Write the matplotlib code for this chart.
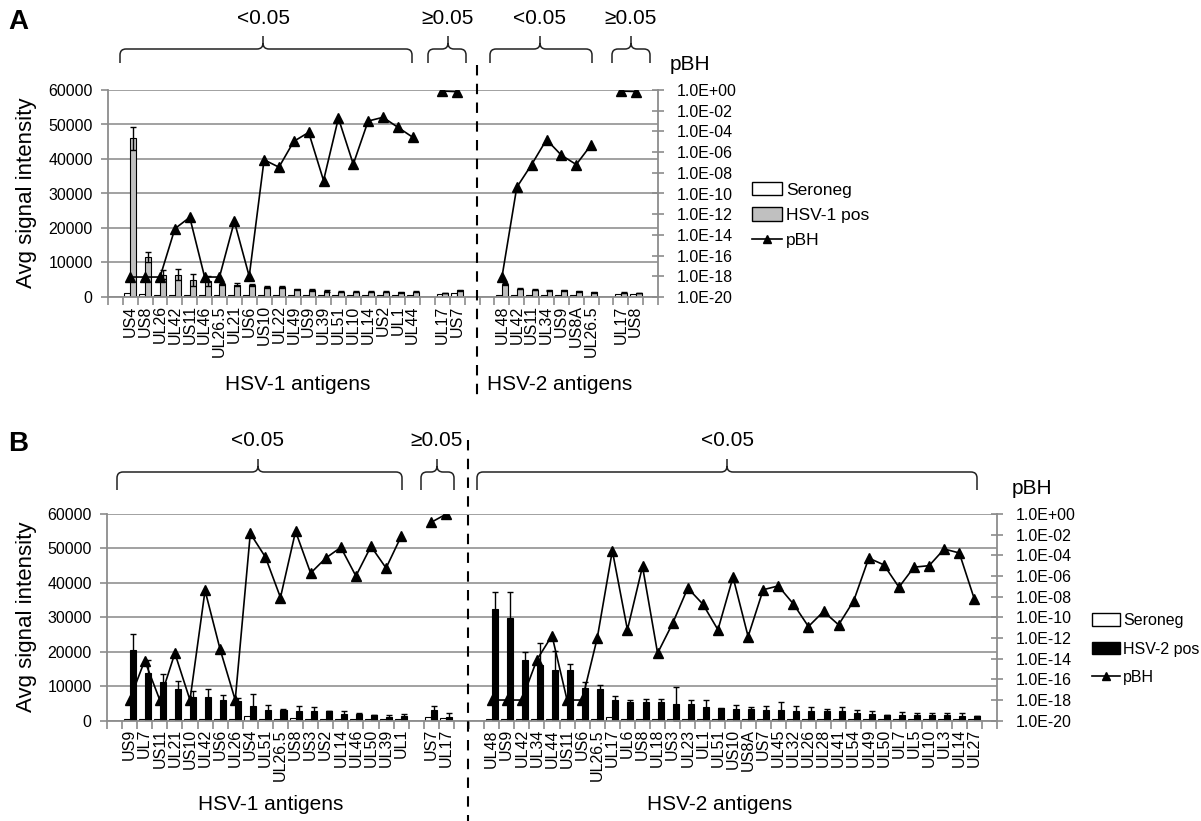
import numpy as np
import matplotlib
matplotlib.use('Agg')
import matplotlib.pyplot as plt
from matplotlib.patches import Patch, PathPatch
from matplotlib.lines import Line2D
from matplotlib.path import Path
from matplotlib.ticker import NullLocator

plt.rcParams['font.family'] = ['Liberation Sans', 'DejaVu Sans']

# ---------------- Panel A data ----------------
A1_labels = ['US4', 'US8', 'UL26', 'UL42', 'US11', 'UL46', 'UL26.5', 'UL21', 'US6', 'US10',
             'UL22', 'UL49', 'US9', 'UL39', 'UL51', 'UL10', 'UL14', 'US2', 'UL1', 'UL44']
A1_neg = [1300, 900, 700, 700, 700, 700, 500, 600, 600, 700, 600, 600, 500, 500, 500, 500, 600, 600, 600, 600]
A1_pos = [46000, 11600, 6500, 6500, 4900, 4600, 3800, 3600, 3400, 2900,
          2800, 2200, 2000, 1700, 1500, 1500, 1500, 1500, 1400, 1500]
A1_err = [3300, 1400, 1200, 1600, 1800, 1500, 400, 400, 300, 400, 300, 200, 300, 200, 150, 150, 150, 150, 150, 150]
A1_pbh = [8.5e-19, 8.5e-19, 8.5e-19, 4.0e-14, 5.0e-13, 8.5e-19, 8.5e-19, 2.0e-13, 1.0e-18, 1.8e-07,
          3.5e-08, 1.1e-05, 8.0e-05, 1.8e-09, 1.9e-03, 6.8e-08, 1.0e-03, 2.3e-03, 2.5e-04, 2.7e-05]

A2_labels = ['UL17', 'US7']
A2_neg = [1000, 1200]
A2_pos = [1200, 1900]
A2_err = [100, 200]
A2_pbh = [0.79, 0.69]

A3_labels = ['UL48', 'UL42', 'US11', 'UL34', 'US9', 'US8A', 'UL26.5']
A3_neg = [500, 600, 500, 500, 500, 500, 400]
A3_pos = [3700, 2400, 2100, 1900, 1900, 1650, 1350]
A3_err = [300, 200, 200, 150, 150, 150, 100]
A3_pbh = [8.0e-19, 4.0e-10, 6.3e-08, 1.6e-05, 5.0e-07, 6.3e-08, 5.0e-06]

A4_labels = ['UL17', 'US8']
A4_neg = [900, 1000]
A4_pos = [1300, 1200]
A4_err = [100, 100]
A4_pbh = [0.79, 0.71]

# ---------------- Panel B data ----------------
B1_labels = ['US9', 'UL7', 'US11', 'UL21', 'US10', 'UL42', 'US6', 'UL26', 'US4', 'UL51',
             'UL26.5', 'US8', 'US3', 'US2', 'UL14', 'UL46', 'UL50', 'UL39', 'UL1']
B1_neg = [500, 500, 500, 400, 500, 400, 400, 400, 1300, 600, 400, 700, 600, 500, 500, 400, 400, 400, 400]
B1_pos = [20500, 13800, 11100, 9100, 6800, 6800, 6000, 5800, 4300, 3100,
          3100, 2900, 2900, 2800, 1850, 1850, 1650, 1200, 1400]
B1_err = [4600, 3900, 2400, 2400, 1900, 2400, 1500, 900, 3500, 1500, 300, 1500, 1200, 100, 1000, 400, 100, 500, 500]
B1_pbh = [1.0e-18, 6.6e-15, 1.0e-18, 3.4e-14, 1.0e-18, 4.0e-08, 7.9e-14, 1.0e-18, 1.3e-02, 6.8e-05,
          8.3e-09, 2.1e-02, 1.9e-06, 5.4e-05, 5.9e-04, 1.0e-06, 7.4e-04, 5.9e-06, 6.9e-03]

B2_labels = ['US7', 'UL17']
B2_neg = [1200, 800]
B2_pos = [3100, 1200]
B2_err = [1200, 1100]
B2_pbh = [0.16, 1.0]

B3_labels = ['UL48', 'US9', 'UL42', 'UL34', 'UL44', 'US11', 'US6', 'UL26.5', 'UL17', 'UL6', 'US8',
             'UL18', 'US3', 'UL23', 'UL1', 'UL51', 'US10', 'US8A', 'US7', 'UL45', 'UL32', 'UL26',
             'UL28', 'UL41', 'UL54', 'UL49', 'UL50', 'UL7', 'UL5', 'UL10', 'UL3', 'UL14', 'UL27']
B3_neg = [400, 500, 400, 400, 400, 400, 400, 400, 1100, 400, 500, 400, 400, 500, 500, 400, 400,
          400, 400, 400, 400, 400, 400, 400, 400, 400, 400, 400, 400, 400, 400, 400, 400]
B3_pos = [32400, 29800, 17600, 16200, 14700, 14700, 9400, 9100, 6000, 5300, 5300,
          5300, 4850, 4750, 4100, 3600, 3500, 3500, 3100, 3100, 2900, 2900,
          2900, 2900, 2300, 1950, 1650, 1650, 1650, 1650, 1650, 1450, 1350]
B3_err = [5000, 7500, 2400, 6300, 5600, 1900, 1900, 1300, 1300, 700, 1000,
          1000, 5000, 1400, 1900, 200, 1100, 600, 1200, 2400, 1400, 1000,
          600, 1000, 800, 800, 100, 1000, 500, 500, 500, 800, 100]
B3_pbh = [1e-18, 1e-18, 1e-18, 7.9e-15, 1.7e-12, 1e-18, 1e-18, 1.0e-12, 2.8e-04, 6.3e-12, 8.5e-06,
          3.4e-14, 2.7e-11, 6.8e-08, 1.9e-09, 6.3e-12, 7.9e-07, 1.4e-12, 4.7e-08, 1.1e-07, 2.0e-09, 1.3e-11,
          3.7e-10, 1.9e-11, 4.0e-09, 5.4e-05, 1.2e-05, 8.3e-08, 7.2e-06, 1.0e-05, 4.1e-04, 1.7e-04, 5.8e-09]

groupsA = [
    dict(labels=A1_labels, neg=A1_neg, pos=A1_pos, err=A1_err, pbh=A1_pbh),
    dict(labels=A2_labels, neg=A2_neg, pos=A2_pos, err=A2_err, pbh=A2_pbh),
    dict(labels=A3_labels, neg=A3_neg, pos=A3_pos, err=A3_err, pbh=A3_pbh),
    dict(labels=A4_labels, neg=A4_neg, pos=A4_pos, err=A4_err, pbh=A4_pbh),
]
gapsA, trailA = [1, 1, 2, 1], 1

groupsB = [
    dict(labels=B1_labels, neg=B1_neg, pos=B1_pos, err=B1_err, pbh=B1_pbh),
    dict(labels=B2_labels, neg=B2_neg, pos=B2_pos, err=B2_err, pbh=B2_pbh),
    dict(labels=B3_labels, neg=B3_neg, pos=B3_pos, err=B3_err, pbh=B3_pbh),
]
gapsB, trailB = [1, 1, 2], 1

W, H = 1201, 821
fig = plt.figure(figsize=(W / 100, H / 100), dpi=100)
GRID = '#9a9a9a'
SPINE = '#8c8c8c'


def layout(groups, gaps, trailing):
    xs, p = [], 0
    for g, gap in zip(groups, gaps):
        p += gap
        xs.append(np.arange(p, p + len(g['labels'])))
        p += len(g['labels'])
    return xs, p + trailing


def px_rect(l, t, r, b):
    return [l / W, 1 - b / H, (r - l) / W, (b - t) / H]


def draw_panel(rect, groups, gaps, trailing, pos_color):
    ax = fig.add_axes(rect)
    xs, n = layout(groups, gaps, trailing)
    ax.set_xlim(-0.5, n - 0.5)
    ax.set_ylim(0, 60000)
    ax.set_yticks(np.arange(0, 60001, 10000))
    ax.grid(axis='y', color=GRID, lw=1.3)
    ax.set_axisbelow(True)
    ticks, labels = [], []
    for g, x in zip(groups, xs):
        ax.bar(x - 0.2, g['neg'], width=0.4, color='white', edgecolor='black', lw=0.8)
        ax.bar(x + 0.2, g['pos'], width=0.4, color=pos_color, edgecolor='black', lw=0.8,
               yerr=g['err'], error_kw=dict(ecolor='black', elinewidth=1.0, capsize=2.5, capthick=1.0))
        ticks += list(x)
        labels += g['labels']
    ax.set_xticks(ticks)
    ax.set_xticklabels(labels, rotation=90)
    ax.set_xticks(np.arange(-0.5, n), minor=True)
    ax.tick_params(axis='x', which='major', length=0, pad=6, labelsize=11.5)
    ax.tick_params(axis='x', which='minor', length=6, color=SPINE, width=1.2)
    ax.tick_params(axis='y', length=5, color=SPINE, width=1.2, labelsize=11.5, pad=6)
    for s in ['top', 'right']:
        ax.spines[s].set_visible(False)
    for s in ['left', 'bottom']:
        ax.spines[s].set_color(SPINE)
        ax.spines[s].set_linewidth(1.3)

    ax2 = ax.twinx()
    ax2.set_yscale('log')
    ax2.set_ylim(1e-20, 1)
    for g, x in zip(groups, xs):
        ax2.plot(x, g['pbh'], color='black', marker='^', ms=7, lw=1.2)
    exps = list(range(0, -21, -2))
    ax2.set_yticks([10.0 ** e for e in exps])
    ax2.set_yticklabels([f"1.0E{e:+03d}" for e in exps])
    ax2.yaxis.set_minor_locator(NullLocator())
    ax2.tick_params(axis='y', direction='inout', length=9, color=SPINE, width=1.2, labelsize=11.5, pad=9)
    for s in ['top', 'left', 'bottom']:
        ax2.spines[s].set_visible(False)
    ax2.spines['right'].set_color(SPINE)
    ax2.spines['right'].set_linewidth(1.3)
    return ax, ax2


draw_panel(px_rect(108, 90, 658, 297), groupsA, gapsA, trailA, '#c0c0c0')
draw_panel(px_rect(107, 514, 997, 720.7), groupsB, gapsB, trailB, 'black')


# legends
def legend(anchor, pos_label, pos_color, fs, spacing):
    handles = [Patch(facecolor='white', edgecolor='black', lw=1.0),
               Patch(facecolor=pos_color, edgecolor='black', lw=1.0),
               Line2D([], [], color='black', marker='^', ms=6, lw=1.2)]
    fig.legend(handles, ['Seroneg', pos_label, 'pBH'], loc='upper left',
               bbox_to_anchor=anchor, frameon=False, fontsize=fs,
               handlelength=1.75, handleheight=0.8, handletextpad=0.2,
               labelspacing=spacing, borderaxespad=0, borderpad=0)


legend((752 / W, 1 - 182 / H), 'HSV-1 pos', '#c0c0c0', 12.5, 0.55)
legend((1092 / W, 1 - 613 / H), 'HSV-2 pos', 'black', 11.5, 0.85)

# overlay annotations in pixel coordinates
ov = fig.add_axes([0, 0, 1, 1])
ov.set_xlim(0, W)
ov.set_ylim(H, 0)
ov.axis('off')


def brace(x0, x1, xm, ytop, ybot, ytip, r=6):
    verts = [(x0, ybot), (x0, ytop + r), (x0, ytop), (x0 + r, ytop),
             (xm - r, ytop), (xm, ytop), (xm, ytop - r), (xm, ytip),
             (xm, ytop - r), (xm, ytop), (xm + r, ytop),
             (x1 - r, ytop), (x1, ytop), (x1, ytop + r), (x1, ybot)]
    codes = [Path.MOVETO, Path.LINETO, Path.CURVE3, Path.CURVE3,
             Path.LINETO, Path.CURVE3, Path.CURVE3, Path.LINETO,
             Path.MOVETO, Path.CURVE3, Path.CURVE3,
             Path.LINETO, Path.CURVE3, Path.CURVE3, Path.LINETO]
    ov.add_patch(PathPatch(Path(verts, codes), fill=False, edgecolor='#222222', lw=1.1))


# Panel A braces and texts
for (x0, x1, xm, txt) in [(120, 412, 263, '<0.05'), (428, 466, 448, '≥0.05'),
                          (490, 592, 540, '<0.05'), (612, 650, 631, '≥0.05')]:
    brace(x0, x1, xm, 49, 63, 36)
    ov.text(xm, 19, txt, ha='center', va='center', fontsize=15)
# Panel B braces and texts
for (x0, x1, xm, txt) in [(117, 402, 258, '<0.05'), (421, 454, 437, '≥0.05'),
                          (477, 977, 727, '<0.05')]:
    brace(x0, x1, xm, 472, 490, 459)
    ov.text(xm, 441, txt, ha='center', va='center', fontsize=15)

ov.text(8, 22, 'A', fontsize=20, fontweight='bold', ha='left', va='center')
ov.text(8, 444, 'B', fontsize=20, fontweight='bold', ha='left', va='center')
ov.text(27, 193, 'Avg signal intensity', rotation=90, ha='center', va='center', fontsize=16)
ov.text(27, 617, 'Avg signal intensity', rotation=90, ha='center', va='center', fontsize=16)
ov.text(670, 64, 'pBH', ha='left', va='center', fontsize=15)
ov.text(1012, 488, 'pBH', ha='left', va='center', fontsize=15)
ov.text(298, 384, 'HSV-1 antigens', ha='center', va='center', fontsize=15)
ov.text(560, 384, 'HSV-2 antigens', ha='center', va='center', fontsize=15)
ov.text(271, 805, 'HSV-1 antigens', ha='center', va='center', fontsize=15)
ov.text(720, 805, 'HSV-2 antigens', ha='center', va='center', fontsize=15)

ov.plot([477, 477], [65, 398], color='black', lw=1.5, ls=(0, (5, 4)))
ov.plot([468, 468], [440, 821], color='black', lw=1.5, ls=(0, (5, 4)))

fig.savefig('out.png', dpi=100)
